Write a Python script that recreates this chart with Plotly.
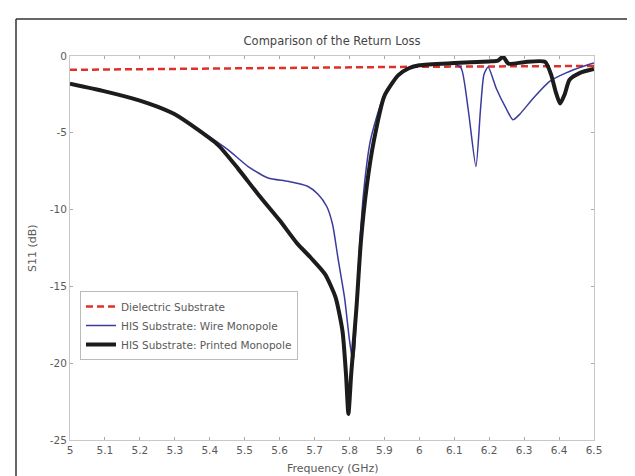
import plotly.graph_objects as go

# ---- data ----
red_f = [5.0, 5.5, 6.0, 6.5]
red_v = [-0.9, -0.8, -0.7, -0.65]

blue_f = [5.0, 5.1, 5.2, 5.25, 5.3, 5.366, 5.395, 5.452, 5.51, 5.567, 5.624, 5.68,
          5.71, 5.735, 5.752, 5.767, 5.786, 5.8, 5.81, 5.815, 5.825, 5.84, 5.86,
          5.9, 5.95, 6.0, 6.1, 6.12, 6.14, 6.162, 6.175, 6.185, 6.197, 6.22, 6.248,
          6.268, 6.287, 6.326, 6.373, 6.42, 6.47, 6.5]
blue_v = [-1.8, -2.3, -2.9, -3.3, -3.8, -4.75, -5.2, -6.1, -7.2, -7.94, -8.16,
          -8.48, -9.0, -9.8, -11.0, -13.15, -15.75, -18.5, -19.9, -19.0, -14.0,
          -9.0, -5.5, -2.5, -1.0, -0.6, -0.5, -0.8, -3.5, -7.2, -3.5, -1.2, -0.72,
          -2.1, -3.4, -4.15, -3.8, -2.75, -1.65, -1.1, -0.67, -0.46]

black_f = [5.0, 5.1, 5.2, 5.25, 5.3, 5.366, 5.424, 5.48, 5.54, 5.6, 5.65, 5.69,
           5.73, 5.76, 5.78, 5.79, 5.797, 5.805, 5.82, 5.833, 5.85, 5.87, 5.9, 5.94,
           5.97, 6.0, 6.1, 6.2, 6.225, 6.24, 6.255, 6.3, 6.36, 6.377, 6.39, 6.403,
           6.416, 6.43, 6.46, 6.5]
black_v = [-1.8, -2.3, -2.9, -3.3, -3.8, -4.8, -5.8, -7.3, -9.05, -10.7, -12.2,
           -13.15, -14.2, -15.7, -17.9, -20.7, -23.3, -20.7, -16.4, -12.0, -8.4,
           -5.5, -2.6, -1.25, -0.8, -0.6, -0.46, -0.35, -0.3, -0.05, -0.5, -0.4,
           -0.38, -1.2, -2.3, -3.1, -2.5, -1.55, -1.1, -0.85]

x_ticks = [5.0, 5.1, 5.2, 5.3, 5.4, 5.5, 5.6, 5.7, 5.8, 5.9, 6.0, 6.1, 6.2, 6.3, 6.4, 6.5]
x_tick_text = ["5", "5.1", "5.2", "5.3", "5.4", "5.5", "5.6", "5.7", "5.8", "5.9",
               "6", "6.1", "6.2", "6.3", "6.4", "6.5"]
y_ticks = [0, -5, -10, -15, -20, -25]
y_tick_text = ["0", "-5", "-10", "-15", "-20", "-25"]

names = ["Dielectric Substrate", "HIS Substrate: Wire Monopole",
         "HIS Substrate: Printed Monopole"]

FONT = "DejaVu Sans, Verdana, sans-serif"
GRAY = "#5a5a5a"
AXC = "#c8c8c8"

fig = go.Figure()
fig.add_trace(go.Scatter(x=red_f, y=red_v, mode="lines", name=names[0],
                         line=dict(color="#e0302a", width=2.5, dash="7px,4px")))
fig.add_trace(go.Scatter(x=blue_f, y=blue_v, mode="lines", name=names[1],
                         line=dict(color="#3b3b9e", width=1.5, shape="spline",
                                   smoothing=0.6)))
fig.add_trace(go.Scatter(x=black_f, y=black_v, mode="lines", name=names[2],
                         line=dict(color="#1c1c1c", width=4, shape="spline",
                                   smoothing=0.6)))

L, R, T, B = 62, 49, 48, 44
W, H = 635, 476
pw, ph = W - L - R, H - T - B

fig.update_layout(
    width=W, height=H,
    margin=dict(l=L, r=R, t=T, b=B),
    paper_bgcolor="white", plot_bgcolor="white",
    font=dict(family=FONT, size=10.5, color=GRAY),
    showlegend=True,
    legend=dict(x=(72 - L) / pw, y=(H - B - 283) / ph, xanchor="left", yanchor="top",
                bgcolor="white", bordercolor="#bbbbbb", borderwidth=1,
                font=dict(family=FONT, size=10.5, color=GRAY),
                itemwidth=30, tracegroupgap=0),
    title=dict(text="Comparison of the Return Loss", x=(L + pw / 2) / W, xanchor="center",
               y=1 - 33 / H, yanchor="middle", yref="container",
               font=dict(family=FONT, size=11.5, color="#444444")),
    xaxis=dict(range=[5, 6.5], tickvals=x_ticks, ticktext=x_tick_text,
               showgrid=False, zeroline=False, showline=True, linecolor=AXC,
               linewidth=1, mirror="ticks", ticks="inside", ticklen=3,
               tickcolor="#aaaaaa", tickfont=dict(size=10.5, color=GRAY)),
    yaxis=dict(range=[-25, 0], tickvals=y_ticks, ticktext=y_tick_text,
               showgrid=False, zeroline=False, showline=True, linecolor=AXC,
               linewidth=1, mirror="ticks", ticks="inside", ticklen=3,
               tickcolor="#aaaaaa", tickfont=dict(size=10.5, color=GRAY)),
    annotations=[
        dict(text="Frequency (GHz)", x=0.5, y=-(460 - (H - B)) / ph, xref="paper",
             yref="paper", showarrow=False, yanchor="middle",
             font=dict(family=FONT, size=11, color=GRAY)),
        dict(text="S11 (dB)", x=-(L - 24) / pw, y=0.5, xref="paper", yref="paper",
             showarrow=False, textangle=-90, xanchor="center",
             font=dict(family=FONT, size=11, color=GRAY)),
    ],
    shapes=[
        dict(type="line", xref="paper", yref="paper",
             x0=(8 - L) / pw, x1=(W + 5 - L) / pw,
             y0=(H - B - 11) / ph, y1=(H - B - 11) / ph,
             line=dict(color="#333333", width=1.5)),
        dict(type="line", xref="paper", yref="paper",
             x0=(8 - L) / pw, x1=(8 - L) / pw,
             y0=(H - B - 11) / ph, y1=-(B + 5) / ph,
             line=dict(color="#333333", width=1.5)),
    ],
)

fig.write_html("out.html")
